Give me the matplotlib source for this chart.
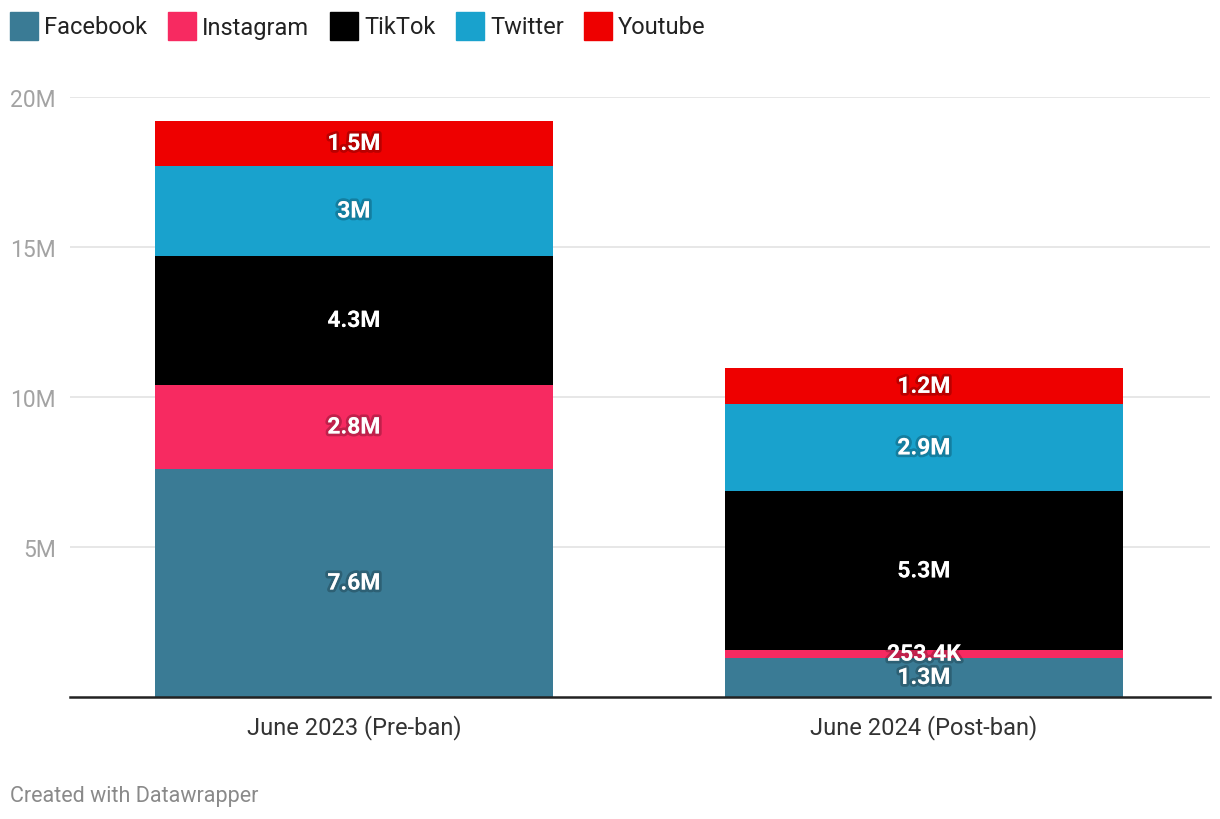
import matplotlib.pyplot as plt
import matplotlib.patheffects as pe
from matplotlib.patches import Rectangle

plt.rcParams['font.family'] = ['Roboto', 'DejaVu Sans']

# data (millions)
periods = ["June 2023 (Pre-ban)", "June 2024 (Post-ban)"]
platforms = ["Facebook", "Instagram", "TikTok", "Twitter", "Youtube"]
facebook = [7.6, 1.3]
instagram = [2.8, 0.2534]
tiktok = [4.3, 5.3]
twitter = [3.0, 2.9]
youtube = [1.5, 1.2]
colors = ["#3a7b95", "#f72a61", "#000000", "#19a2cd", "#ee0000"]

series = [facebook, instagram, tiktok, twitter, youtube]


def fmt(v):
    if v >= 1:
        s = f"{v:.1f}".rstrip("0").rstrip(".")
        return s + "M"
    return f"{v * 1000:.1f}K"


W, H = 1220, 820
fig = plt.figure(figsize=(W / 100, H / 100), dpi=100)
ax = fig.add_axes([70 / W, 1 - 698 / H, 1140 / W, 600 / H])

x = range(len(periods))
bottoms = [0.0] * len(periods)
shadow = [pe.withStroke(linewidth=4, foreground=(0, 0, 0, 0.22))]
for vals, col in zip(series, colors):
    ax.bar(x, vals, width=0.698, bottom=bottoms, color=col, zorder=2)
    for i, v in enumerate(vals):
        ax.text(i, bottoms[i] + v / 2, fmt(v), ha="center", va="center",
                color="white", fontsize=16.5, fontweight="bold",
                path_effects=shadow, zorder=3)
    bottoms = [b + v for b, v in zip(bottoms, vals)]

ax.set_xlim(-0.498, 1.502)
ax.set_ylim(0, 20)
ax.set_yticks([5, 10, 15, 20])
ax.set_yticklabels(["5M", "10M", "15M", "20M"])
ax.grid(axis="y", color="#e3e3e3", linewidth=1.2, zorder=0)
ax.set_xticks(list(x))
ax.set_xticklabels(periods)
ax.tick_params(axis="y", length=0, pad=10, labelsize=16.5, labelcolor="#a3a3a3")
ax.tick_params(axis="x", length=0, pad=12, labelsize=17, labelcolor="#333333")
for s in ["top", "right", "left"]:
    ax.spines[s].set_visible(False)
ax.spines["bottom"].set_color("#222222")
ax.spines["bottom"].set_linewidth(1.8)
ax.spines["bottom"].set_zorder(4)

# legend drawn by hand along the top
leg_x = [10, 168, 330, 456, 584]
for px, name, col in zip(leg_x, platforms, colors):
    fig.patches.append(Rectangle((px / W, 1 - 41 / H), 28 / W, 28 / H,
                                 transform=fig.transFigure, color=col))
    fig.text((px + 34) / W, 1 - 28 / H, name, ha="left", va="center",
             fontsize=17, color="#222222")

fig.text(10 / W, 1 - 797 / H, "Created with Datawrapper", ha="left",
         va="center", fontsize=15.5, color="#8a8a8a")

fig.savefig("out.png", dpi=100)
